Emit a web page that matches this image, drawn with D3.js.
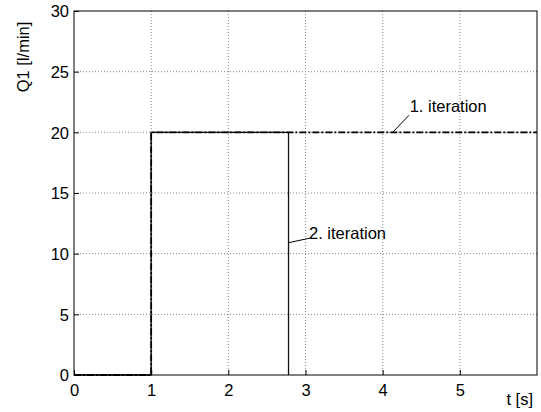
<!DOCTYPE html>
<html><head><meta charset="utf-8">
<script src="https://cdn.jsdelivr.net/npm/d3@7"></script>
<style>body{margin:0;background:#fff}svg{display:block}text{font-family:"Liberation Sans",Arial,sans-serif;font-size:16.5px;fill:#000}</style>
</head><body>
<script>
const xTicks = [0, 1, 2, 3, 4, 5];
const yTicks = [0, 5, 10, 15, 20, 25, 30];
const iter1T = [0, 1, 1, 6];
const iter1Q = [0, 0, 20, 20];
const iter2T = [0, 1, 1, 2.78, 2.78];
const iter2Q = [0, 0, 20, 20, 0];
const labels = ["1. iteration", "2. iteration"];
const xLabel = "t [s]";
const yLabel = "Q1 [l/min]";

const W = 541, H = 412;
const m = {l: 74, t: 11, r: 4, b: 37};
const FS = "16.5px";
const svg = d3.select("body").append("svg").attr("width", W).attr("height", H);
const x = d3.scaleLinear().domain([0, 6]).range([m.l, W - m.r]);
const y = d3.scaleLinear().domain([0, 30]).range([H - m.b, m.t]);

// grid
const g = svg.append("g");
g.selectAll(".gx").data(xTicks.slice(1)).join("line")
  .attr("x1", d => x(d)).attr("x2", d => x(d)).attr("y1", y(0)).attr("y2", y(30))
  .attr("stroke", "#888").attr("stroke-dasharray", "1,2");
g.selectAll(".gy").data(yTicks.slice(1, -1)).join("line")
  .attr("y1", d => y(d)).attr("y2", d => y(d)).attr("x1", x(0)).attr("x2", x(6))
  .attr("stroke", "#888").attr("stroke-dasharray", "1,2");

// axes
const xa = svg.append("g").attr("transform", `translate(0,${y(0)})`)
  .call(d3.axisBottom(x).tickValues(xTicks).tickSize(-5).tickPadding(9).tickFormat(d3.format("d")));
const ya = svg.append("g").attr("transform", `translate(${x(0)},0)`)
  .call(d3.axisLeft(y).tickValues(yTicks).tickSize(-5).tickPadding(5).tickFormat(d3.format("d")));
[xa, ya].forEach(a => { a.select(".domain").remove(); a.selectAll("text").style("font-size", FS).style("font-family", '"Liberation Sans",Arial,sans-serif'); a.selectAll("line").attr("stroke", "#000"); });
ya.selectAll(".tick text").attr("dy", "0.35em");

// lines
const line = d3.line().x(d => x(d[0])).y(d => y(d[1]));
svg.append("path").datum(iter2T.map((t, i) => [t, iter2Q[i]]))
  .attr("d", line).attr("fill", "none").attr("stroke", "#111").attr("stroke-width", 1.3);
svg.append("path").datum(iter1T.map((t, i) => [t, iter1Q[i]]))
  .attr("d", line).attr("fill", "none").attr("stroke", "#000").attr("stroke-width", 1.8)
  .attr("stroke-dasharray", "7,2,2,2");

// frame
svg.append("rect").attr("x", x(0)).attr("y", y(30)).attr("width", x(6) - x(0)).attr("height", y(0) - y(30))
  .attr("fill", "none").attr("stroke", "#000").attr("stroke-width", 1);

// annotations
svg.append("line").attr("x1", x(4.13)).attr("y1", y(20)).attr("x2", x(4.34)).attr("y2", y(21.4))
  .attr("stroke", "#000");
svg.append("text").attr("x", x(4.35)).attr("y", y(21.68)).text(labels[0]);
svg.append("line").attr("x1", x(2.78)).attr("y1", y(10.9)).attr("x2", x(3.07)).attr("y2", y(11.3))
  .attr("stroke", "#000");
svg.append("text").attr("x", x(3.045)).attr("y", y(11.2)).text(labels[1]);

// axis labels
svg.append("text").attr("x", 533).attr("y", 405).attr("text-anchor", "end").text(xLabel);
svg.append("text").attr("transform", "translate(29,57) rotate(-90)").attr("text-anchor", "middle").text(yLabel);
</script>
</body></html>
